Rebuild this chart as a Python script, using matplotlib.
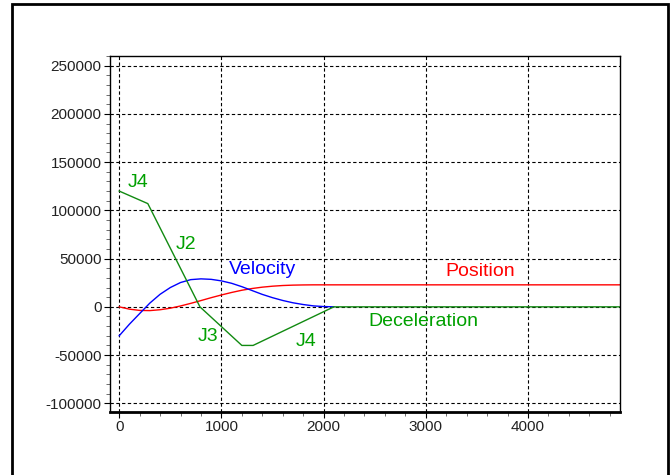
import matplotlib
matplotlib.use("Agg")
import matplotlib.pyplot as plt
from matplotlib.patches import Rectangle
from matplotlib.ticker import MultipleLocator

# time axis shared by velocity and position
t = [0, 100, 200, 300, 400, 500, 600, 700, 800, 900, 1000,
     1100, 1200, 1300, 1400, 1500, 1600, 1700, 1800, 1900, 2000, 2100]
velocity = [-30000, -18000, -7000, 3900, 13000, 20000, 25200, 28200, 29000, 28500, 26900,
            24400, 20900, 16900, 12900, 9500, 6600, 4200, 2400, 1000, 300, 0]
position = [0, -2400, -3700, -3900, -3000, -1400, 900, 3600, 6500, 9500, 12300,
            14900, 17200, 19000, 20400, 21400, 22100, 22500, 22700, 22800, 22800, 22800]

# deceleration profile (piecewise linear)
decel_t = [0, 280, 790, 1200, 1310, 2100, 4900]
decel = [120000, 107000, 0, -40000, -40000, 0, 0]

# annotations: text, x, y, colour
labels = [("J4", 183, 129000, "#00a000"),
          ("J2", 655, 65000, "#00a000"),
          ("J3", 866, -30500, "#00a000"),
          ("J4", 1832, -35500, "#00a000"),
          ("Velocity", 1405, 39000, "blue"),
          ("Position", 3530, 36500, "red"),
          ("Deceleration", 2980, -15300, "#00a000")]

plt.rcParams["font.family"] = ["Liberation Sans", "DejaVu Sans"]
plt.rcParams["axes.unicode_minus"] = False

fig = plt.figure(figsize=(6.72, 4.75), dpi=100)
ax = fig.add_axes([110/672, 1-412/475, 510/672, 356/475])

ax.plot(t + [4900], position + [position[-1]], color="red", lw=1.0)
ax.plot(t, velocity, color="blue", lw=1.0)
ax.plot(decel_t, decel, color="#118a11", lw=1.0)

for txt, x, y, c in labels:
    ax.text(x, y, txt, color=c, fontsize=14, ha="center", va="center")

ax.set_xlim(-90, 4900)
ax.set_ylim(-109000, 260000)
ax.xaxis.set_major_locator(MultipleLocator(1000))
ax.xaxis.set_minor_locator(MultipleLocator(200))
ax.yaxis.set_major_locator(MultipleLocator(50000))
ax.yaxis.set_minor_locator(MultipleLocator(10000))
ax.grid(True, which="major", color="black", lw=0.8, linestyle=(0, (3, 2.2)))
ax.tick_params(which="major", direction="out", length=4, width=0.8,
               labelsize=11, labelcolor="#222222", pad=2)
ax.tick_params(which="minor", direction="out", length=3, width=0.6, color="#555555")

for side in ["left", "right", "top"]:
    ax.spines[side].set_linewidth(1.0)
ax.spines["bottom"].set_linewidth(2.0)

# outer frame
fig.patches.append(Rectangle((12/672, -0.02), 656/672, 1 - 4/475 + 0.02,
                             transform=fig.transFigure, fill=False,
                             edgecolor="black", lw=2.0))

fig.savefig("out.png", dpi=100)
